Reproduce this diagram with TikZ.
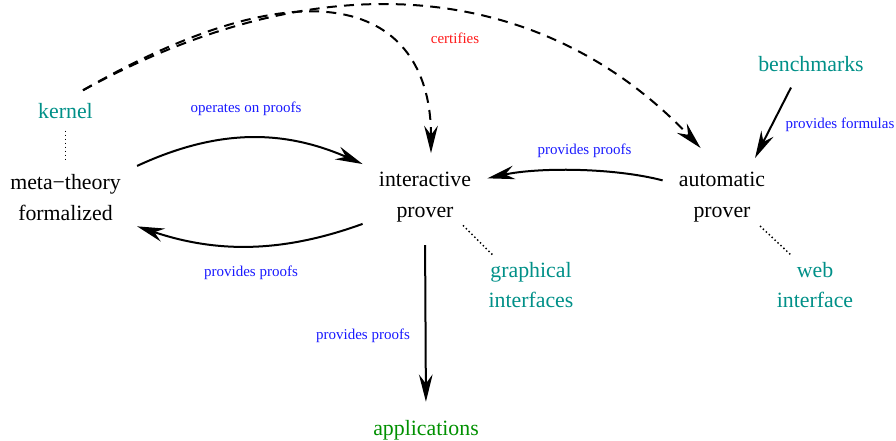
\documentclass[tikz,border=0pt]{standalone}
\usepackage{fontspec}
\setmainfont{Liberation Serif}
\usepackage{xcolor}
\usepackage{tikz}
\usetikzlibrary{arrows.meta}
\definecolor{toolcol}{RGB}{0,144,136}
\definecolor{appcol}{RGB}{0,144,0}
\definecolor{lblcol}{RGB}{25,25,255}
\definecolor{certcol}{RGB}{255,25,25}

\begin{document}
\begin{tikzpicture}[x=0.55pt,y=-0.55pt,>={Stealth[length=15pt,width=7.5pt,inset=5pt]},
  main/.style={align=center,inner xsep=8.8pt,inner ysep=4.4pt,font=\fontsize{12}{17}\selectfont},
  side/.style={align=center,inner sep=2.2pt,text=toolcol,font=\fontsize{12}{17}\selectfont},
  lbl/.style={inner sep=0pt,text=lblcol,font=\fontsize{8.25}{10}\selectfont},
  flow/.style={->,line width=1.1pt},
  cert/.style={->,line width=1.1pt,dash pattern=on 5.5pt off 4pt},
  link/.style={line width=0.8pt,dash pattern=on 0.8pt off 1.4pt}]
  \useasboundingbox (0,0) rectangle (896,440);
  % Provers and the formalized theory
  \node[main] (meta) at (65.5,197.4) {meta−theory\\formalized};
  \node[main] (inter) at (425,197.4) {interactive\\prover};
  \node[main] (auto) at (722,197.4) {automatic\\prover};
  % Surrounding parts
  \node[side] (kernel) at (65.5,110.7) {kernel};
  \node[side] (bench) at (811,64.5) {benchmarks};
  \node[side] (gui) at (531,285) {graphical\\interfaces};
  \node[side] (web) at (815,285) {web\\interface};
  \node[side,text=appcol] (apps) at (426,430) {applications};
  % Edge labels
  \node[lbl] (opslbl) at (246,108.5) {operates on proofs};
  \node[lbl] (formlbl) at (840,124.6) {provides formulas};
  \node[lbl,text=certcol] (certlbl) at (455,38.2) {certifies};
  \foreach \x/\y/\nm in {251/273/metalbl, 584.5/150.5/autolbl, 363/335.5/appslbl}
    {\node[lbl] (\nm) at (\x,\y) {provides proofs};}
  % Proof exchange
  \draw[flow] (meta.north east) .. controls +(80,-37) and +(-80,-35) .. (inter.north west);
  \draw[flow] (inter.203) .. controls +(-80,29) and +(80,27) .. (meta.-22);
  \draw[flow] (auto.164) .. controls +(-50,-13) and +(50,-11) .. (inter.17);
  \draw[flow] ([shift={(-20,11)}]bench.south) -- ([shift={(33,-6)}]auto.north);
  \draw[flow,shorten <=7.9pt,shorten >=7.7pt] (inter.south) -- (apps.north);
  % Kernel certifies both provers
  \draw[cert] ([shift={(17.5,-8.4)}]kernel.north) .. controls +(237,-136) and +(0,-143) .. ([shift={(6,-11)}]inter.north);
  \draw[cert] ([shift={(17.5,-8.4)}]kernel.north) .. controls +(267,-146) and +(-140,-148) .. ([shift={(38,-16)}]auto.north west);
  % Dotted attachments
  \draw[link,shorten <=4.4pt,shorten >=3.3pt] (kernel.south) -- (meta.north);
  \draw[link] ([shift={(38,28)}]inter.center) -- ([shift={(8,-3)}]gui.north west);
  \draw[link] ([shift={(38,28.6)}]auto.center) -- ([shift={(19,-2)}]web.north west);
\end{tikzpicture}
\end{document}
